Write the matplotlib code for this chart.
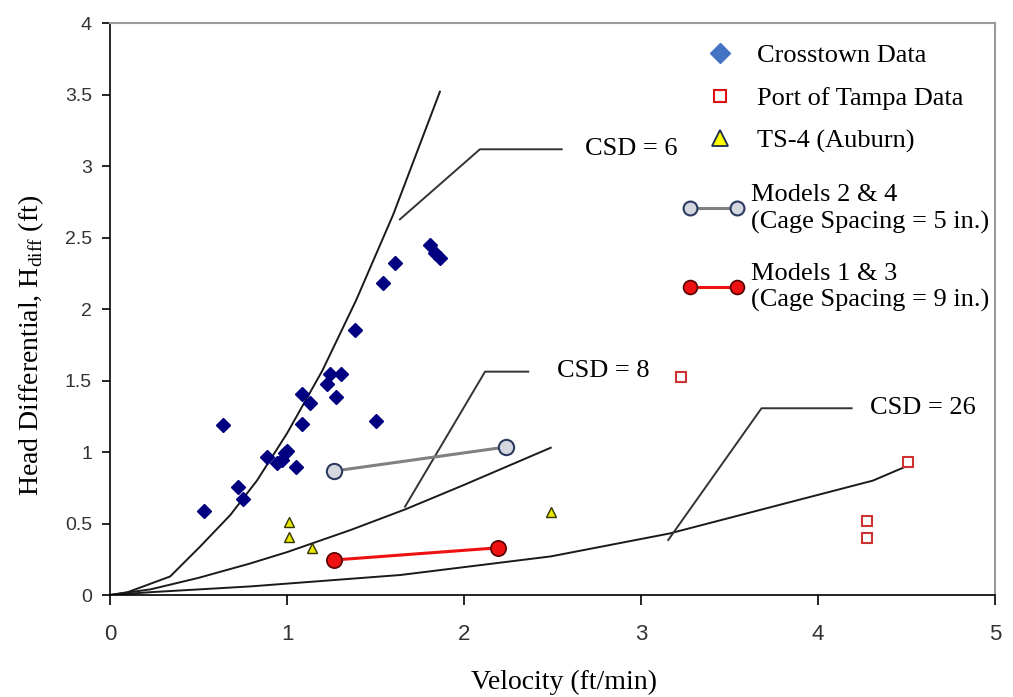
import matplotlib
matplotlib.use('Agg')
import matplotlib.pyplot as plt
from matplotlib.lines import Line2D
from matplotlib.legend_handler import HandlerLine2D

# crosstown data (navy diamonds)
cross_x = [0.53, 0.64, 0.725, 0.753, 0.885, 0.941, 0.97, 0.989, 1.0, 1.051, 1.087, 1.083,
           1.13, 1.224, 1.243, 1.303, 1.277, 1.384, 1.503, 1.544, 1.61, 1.808, 1.836, 1.864]
cross_y = [0.585, 1.19, 0.757, 0.671, 0.967, 0.921, 0.944, 0.991, 1.007, 0.897, 1.194, 1.406,
           1.34, 1.476, 1.543, 1.543, 1.382, 1.853, 1.217, 2.18, 2.32, 2.448, 2.39, 2.355]

# port of tampa data
tampa_x = [3.226, 4.508, 4.277, 4.277]
tampa_y = [1.524, 0.93, 0.517, 0.399]

# TS-4 (Auburn)
ts4_x = [1.01, 1.01, 1.14, 2.49]
ts4_y = [0.51, 0.405, 0.33, 0.58]

# model results
m24_x = [1.266, 2.237]
m24_y = [0.867, 1.035]
m13_x = [1.266, 2.19]
m13_y = [0.245, 0.33]

# CSD curves
csd6_x = [0, 0.1, 0.34, 0.51, 0.68, 0.83, 1.0, 1.2, 1.39, 1.6, 1.864]
csd6_y = [0, 0.02, 0.13, 0.34, 0.56, 0.80, 1.13, 1.57, 2.06, 2.66, 3.52]
csd8_x = [0, 0.23, 0.5, 0.79, 1.0, 1.36, 1.67, 2.0, 2.49]
csd8_y = [0, 0.04, 0.12, 0.22, 0.30, 0.455, 0.60, 0.77, 1.03]
csd26_x = [0, 0.23, 0.79, 1.64, 2.49, 3.16, 4.31, 4.49]
csd26_y = [0, 0.02, 0.06, 0.14, 0.27, 0.43, 0.80, 0.895]

# leader lines + labels
lead6_x, lead6_y = [1.638, 2.09, 2.552], [2.627, 3.117, 3.117]
lead8_x, lead8_y = [1.667, 2.119, 2.363], [0.618, 1.562, 1.562]
lead26_x, lead26_y = [3.154, 3.681, 4.19], [0.385, 1.306, 1.306]
csd_labels = [("CSD = 6", 2.684, 3.117), ("CSD = 8", 2.525, 1.566), ("CSD = 26", 4.294, 1.308)]

serif = 'Liberation Serif'
sans = 'Liberation Sans'

fig = plt.figure(figsize=(10.13, 6.97), dpi=100)
ax = fig.add_axes([0.1086, 0.1463, 0.8736, 0.8207])

for cx, cy in [(csd6_x, csd6_y), (csd8_x, csd8_y), (csd26_x, csd26_y)]:
    ax.plot(cx, cy, color='#1a1a1a', lw=1.4, zorder=2)
for lx, ly in [(lead6_x, lead6_y), (lead8_x, lead8_y), (lead26_x, lead26_y)]:
    ax.plot(lx, ly, color='#333333', lw=1.4, zorder=2)
for txt, tx, ty in csd_labels:
    ax.text(tx, ty, txt, family=serif, fontsize=19, ha='left', va='center')

ax.plot(cross_x, cross_y, 'D', color='#000080', ms=7, mec='#000080', zorder=4)
ax.plot(tampa_x, tampa_y, 's', mfc='white', mec='#cc3333', mew=1.5, ms=7, zorder=4)
ax.plot(ts4_x, ts4_y, '^', mfc='#e8e800', mec='#333300', mew=1.0, ms=7.5, zorder=4)
ax.plot(m24_x, m24_y, '-o', color='#808080', lw=2.2, mfc='#d4d8de', mec='#2b3a60',
        mew=1.5, ms=11, zorder=5)
ax.plot(m13_x, m13_y, '-o', color='#ee1111', lw=2.2, mfc='#ee1111', mec='#550000',
        mew=1.2, ms=11, zorder=5)

ax.set_xlim(0, 5)
ax.set_ylim(0, 4)
ax.set_xticks([0, 1, 2, 3, 4, 5])
ax.set_yticks([0, 0.5, 1, 1.5, 2, 2.5, 3, 3.5, 4])
ax.set_yticklabels(['0', '0.5', '1', '1.5', '2', '2.5', '3', '3.5', '4'])
ax.tick_params(axis='x', direction='out', length=7, width=1.2, pad=14, labelsize=16,
               labelcolor='#333333')
ax.tick_params(axis='y', direction='out', length=6, width=1.2, pad=7, labelsize=14,
               labelcolor='#333333')
for lab in ax.get_xticklabels() + ax.get_yticklabels():
    lab.set_family(sans)
ax.spines['left'].set_color('black')
ax.spines['bottom'].set_color('black')
ax.spines['left'].set_linewidth(1.2)
ax.spines['bottom'].set_linewidth(1.2)
ax.spines['top'].set_color('#9a9a9a')
ax.spines['right'].set_color('#9a9a9a')
ax.spines['top'].set_linewidth(1.5)
ax.spines['right'].set_linewidth(1.5)

ax.set_xlabel('Velocity (ft/min)', family=serif, fontsize=20)
ax.set_ylabel(r'Head Differential, H$_{\mathregular{diff}}$ (ft)', family=serif, fontsize=20)
ax.xaxis.set_label_coords(0.513, -0.13)
ax.yaxis.set_label_coords(-0.072, 0.437)

# legend
h_cross = Line2D([], [], ls='none', marker='D', color='#4472c4', ms=10)
h_tampa = Line2D([], [], ls='none', marker='s', mfc='white', mec='#dd1111', mew=1.5, ms=9)
h_ts4 = Line2D([], [], ls='none', marker='^', mfc='#ffff00', mec='#1a2a50', mew=1.3, ms=12)
h_m24 = Line2D([], [], ls='-', marker='o', color='#808080', lw=2.2, mfc='#d4d8de',
               mec='#2b3a60', mew=1.5, ms=10)
h_m13 = Line2D([], [], ls='-', marker='o', color='#ee1111', lw=2.2, mfc='#ee1111',
               mec='#550000', mew=1.2, ms=10)

leg1 = ax.legend([h_cross, h_tampa, h_ts4], ['Crosstown Data', 'Port of Tampa Data', 'TS-4 (Auburn)'],
                 loc='upper left', bbox_to_anchor=(695 / 1013, 1 - 44 / 697),
                 bbox_transform=fig.transFigure, frameon=False, borderpad=0, borderaxespad=0,
                 handlelength=1.9, handletextpad=0.45, labelspacing=0.72,
                 prop={'family': serif, 'size': 19}, numpoints=1)
ax.add_artist(leg1)
leg2 = ax.legend([h_m24, h_m13], ['Models 2 & 4\n(Cage Spacing = 5 in.)',
                                  'Models 1 & 3\n(Cage Spacing = 9 in.)'],
                 loc='upper left', bbox_to_anchor=(682 / 1013, 1 - 184 / 697),
                 bbox_transform=fig.transFigure, frameon=False, borderpad=0, borderaxespad=0,
                 handlelength=2.4, handletextpad=0.2, labelspacing=1.1,
                 prop={'family': serif, 'size': 19},
                 handler_map={Line2D: HandlerLine2D(numpoints=2)})
for t in leg2.get_texts():
    t.set_linespacing(1.25)

fig.savefig('out.png', dpi=100)
